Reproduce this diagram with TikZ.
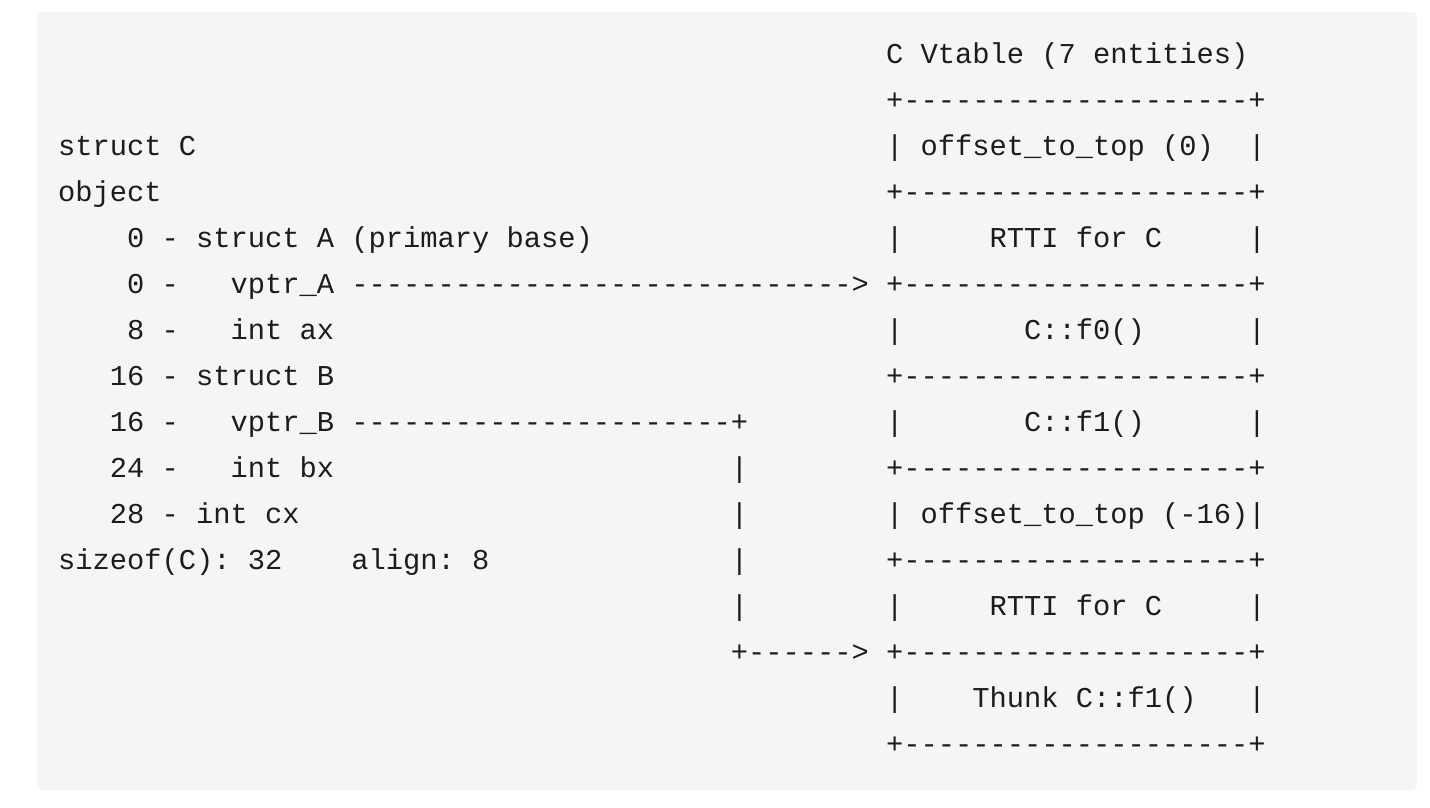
\documentclass[tikz,border=0pt]{standalone}
\usepackage{fontspec}
\setmonofont{Liberation Mono}
\definecolor{codebg}{HTML}{F5F5F5}
\definecolor{codefg}{HTML}{1C1C1C}
\newcommand\codeln[4]{\node[tt] (#3) at ({58+17.25*#1},{-(54+46*#2)-9.6}) {#4};}
\begin{document}
\begin{tikzpicture}[x=1pt,y=1pt,
  tt/.style={anchor=base west,inner sep=0pt,outer sep=0pt,text=codefg,
    font=\ttfamily\fontsize{28.75}{34}\selectfont}]
\useasboundingbox (0,0) rectangle (1430,-807);
\fill[codebg,rounded corners=6pt] (37,-12) rectangle (1417,-790);
% vtable title and borders
\codeln{48}{0}{title}{C Vtable (7 entities)}
\foreach \r/\n in {1/b1,3/b3,5/b5,7/b7,9/b9,11/b11,13/b13,15/b15}{
  \codeln{48}{\r}{\n}{+--------------------+}
}
% vtable entries
\codeln{48}{2}{l2}{|}\codeln{50}{2}{e2}{offset\_to\_top (0)}\codeln{69}{2}{r2}{|}
\codeln{48}{4}{l4}{|}\codeln{54}{4}{e4}{RTTI for C}\codeln{69}{4}{r4}{|}
\codeln{48}{6}{l6}{|}\codeln{56}{6}{e6}{C::f0()}\codeln{69}{6}{r6}{|}
\codeln{48}{8}{l8}{|}\codeln{56}{8}{e8}{C::f1()}\codeln{69}{8}{r8}{|}
\codeln{48}{10}{e10}{| offset\_to\_top (-16)|}
\codeln{48}{12}{l12}{|}\codeln{54}{12}{e12}{RTTI for C}\codeln{69}{12}{r12}{|}
\codeln{48}{14}{l14}{|}\codeln{53}{14}{e14}{Thunk C::f1()}\codeln{69}{14}{r14}{|}
% object layout
\codeln{0}{2}{s2}{struct C}
\codeln{0}{3}{s3}{object}
\codeln{4}{4}{s4}{0 - struct A (primary base)}
\codeln{4}{5}{o5}{0 -}\codeln{10}{5}{s5}{vptr\_A ----------------------------->}
\codeln{4}{6}{o6}{8 -}\codeln{10}{6}{s6}{int ax}
\codeln{3}{7}{s7}{16 - struct B}
\codeln{3}{8}{o8}{16 -}\codeln{10}{8}{s8}{vptr\_B ----------------------+}
\codeln{3}{9}{o9}{24 -}\codeln{10}{9}{s9}{int bx}
\codeln{3}{10}{s10}{28 - int cx}
\codeln{0}{11}{s11}{sizeof(C): 32}\codeln{17}{11}{a11}{align: 8}
\foreach \r in {9,10,11,12}{\codeln{39}{\r}{v\r}{|}}
\codeln{39}{13}{p13}{+------>}
\end{tikzpicture}
\end{document}
